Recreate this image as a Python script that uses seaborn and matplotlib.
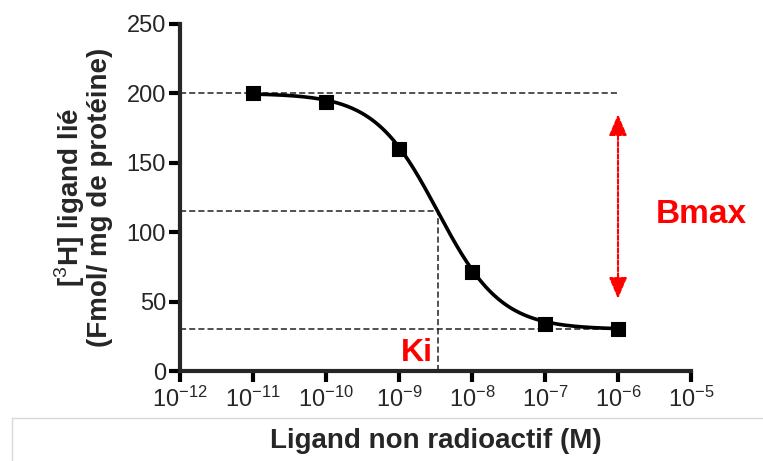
import numpy as np
import pandas as pd
import matplotlib
matplotlib.use('Agg')
import matplotlib.pyplot as plt
from matplotlib.lines import Line2D
import seaborn as sns

# données
conc = [1e-11, 1e-10, 1e-9, 1e-8, 1e-7, 1e-6]
bound = [200, 194, 160, 71, 34, 30]

# paramètres de l'ajustement (plateaux et Ki)
top = 200
bottom = 30
log_ki = -8.47
mid = (top + bottom) / 2

x_ticks = [1e-12, 1e-11, 1e-10, 1e-9, 1e-8, 1e-7, 1e-6, 1e-5]
y_ticks = [0, 50, 100, 150, 200, 250]

sns.set_style('ticks')
plt.rcParams['font.family'] = ['Liberation Sans', 'DejaVu Sans']
plt.rcParams['mathtext.fontset'] = 'custom'
plt.rcParams['mathtext.rm'] = 'Liberation Sans'

fig = plt.figure(figsize=(7.63, 4.61), dpi=100)
ax = fig.add_axes([180 / 763, 1 - 371 / 461, 511 / 763, 347 / 461])

# courbe de compétition (modèle à un site)
log_x = np.linspace(np.log10(conc[0]), np.log10(conc[-1]), 300)
curve = pd.DataFrame({
    'x': 10 ** log_x,
    'y': bottom + (top - bottom) / (1 + 10 ** (log_x - log_ki)),
})
pts = pd.DataFrame({'x': conc, 'y': bound})

# lignes pointillées de repère
dash = dict(color='#222222', lw=1.1, linestyle=(0, (4, 2)), zorder=1)
ax.plot([x_ticks[0], conc[-1]], [top, top], **dash)
ax.plot([x_ticks[0], conc[-1]], [bottom, bottom], **dash)
ax.plot([x_ticks[0], 10 ** log_ki], [mid, mid], **dash)
ax.plot([10 ** log_ki, 10 ** log_ki], [0, mid], **dash)

sns.lineplot(data=curve, x='x', y='y', color='black', lw=2.6, ax=ax, zorder=3)
sns.scatterplot(data=pts, x='x', y='y', marker='s', s=95, color='black',
                edgecolor='black', ax=ax, zorder=4)

ax.set_xscale('log')
ax.set_xlim(x_ticks[0], x_ticks[-1])
ax.set_ylim(0, 250)
ax.set_xticks(x_ticks)
ax.set_yticks(y_ticks)
ax.minorticks_off()
ax.set_xticks([], minor=True)

for s in ['left', 'bottom']:
    ax.spines[s].set_linewidth(3)
sns.despine(ax=ax)
ax.tick_params(axis='both', width=3, length=8, labelsize=17, color='black')
ax.tick_params(axis='x', pad=3)
ax.tick_params(axis='y', pad=2)

ax.set_xlabel('Ligand non radioactif (M)', fontsize=20, fontweight='bold', labelpad=12)
ax.set_ylabel('[$^3$H] ligand lié\n(Fmol/ mg de protéine)', fontsize=20,
              fontweight='bold', labelpad=10, linespacing=1.0)

# flèche Bmax
ax.annotate('', xy=(conc[-1], 185), xytext=(conc[-1], 52),
            arrowprops=dict(arrowstyle='<|-|>,head_length=1.3,head_width=0.55',
                            color='red', lw=1.5, linestyle=(0, (2, 1)),
                            shrinkA=0, shrinkB=0))
ax.text(1.02, 0.45, 'Bmax', transform=ax.transAxes, color='red', fontsize=24,
        fontweight='bold', ha='center', va='center', clip_on=False)
ax.text(10 ** (log_ki - 0.07), 2, 'Ki', color='red', fontsize=23,
        fontweight='bold', ha='right', va='bottom')

# cadre gris clair autour du titre de l'axe x
fig.add_artist(Line2D([12 / 763, 1], [1 - 418 / 461, 1 - 418 / 461],
                      color='#d8d8d8', lw=1))
fig.add_artist(Line2D([12 / 763, 12 / 763], [0, 1 - 418 / 461],
                      color='#d8d8d8', lw=1))

fig.savefig('out.png', dpi=100)
